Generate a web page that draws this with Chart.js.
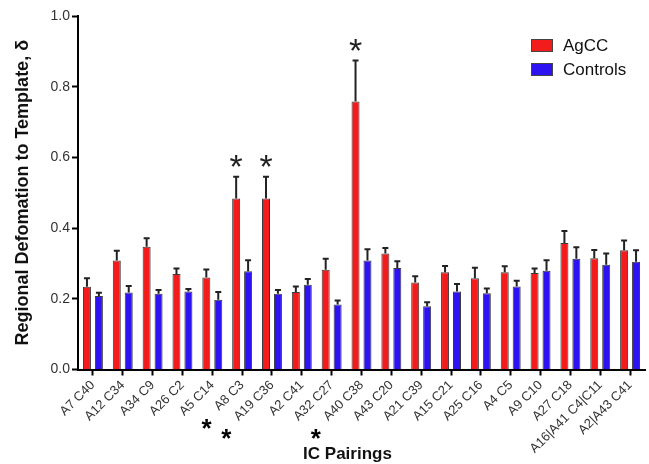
<!DOCTYPE html>
<html>
<head>
<meta charset="utf-8">
<script src="https://cdn.jsdelivr.net/npm/chart.js@4/dist/chart.umd.min.js"></script>
<style>
html,body{margin:0;padding:0;background:#fff;}
#wrap{width:649px;height:464px;}
</style>
</head>
<body>
<div id="wrap"><canvas id="c" width="649" height="464"></canvas></div>
<script>
// ---- data ----
const categories = ['A7 C40','A12 C34','A34 C9','A26 C2','A5 C14','A8 C3','A19 C36','A2 C41','A32 C27','A40 C38','A43 C20','A21 C39','A15 C21','A25 C16','A4 C5','A9 C10','A27 C18','A16|A41 C4|C11','A2|A43 C41'];
const agccValues    = [0.234,0.308,0.347,0.270,0.260,0.484,0.484,0.219,0.282,0.758,0.328,0.246,0.275,0.258,0.275,0.273,0.358,0.315,0.337];
const agccErrors    = [0.024,0.028,0.024,0.016,0.023,0.061,0.061,0.016,0.031,0.116,0.016,0.018,0.018,0.030,0.017,0.013,0.034,0.023,0.028];
const controlValues = [0.208,0.218,0.214,0.221,0.197,0.278,0.214,0.240,0.184,0.308,0.287,0.179,0.221,0.216,0.235,0.279,0.313,0.296,0.305];
const controlErrors = [0.009,0.018,0.011,0.007,0.022,0.031,0.011,0.016,0.011,0.032,0.019,0.011,0.021,0.013,0.016,0.030,0.033,0.032,0.032];
const significantIdx = [5,6,9];
const yMin = 0, yMax = 1, yStep = 0.2;
const seriesNames = ['AgCC','Controls'];
const yTitle = 'Regional Defomation to Template, \u03b4';
const xTitle = 'IC Pairings';

// ---- styles ----
const FONT = '"Liberation Sans", Arial, Helvetica, sans-serif';
const RED = '#f21c1c';
const BLUE = '#2d12f2';
Chart.defaults.font.family = FONT;

function textCenterBaseline(ctx, txt, cy){
  const m = ctx.measureText(txt);
  return cy + (m.actualBoundingBoxAscent - m.actualBoundingBoxDescent)/2;
}

const errorBarPlugin = {
  id:'errorBars',
  afterDatasetsDraw(chart){
    const ctx = chart.ctx, y = chart.scales.y;
    chart.data.datasets.forEach((ds,di)=>{
      const meta = chart.getDatasetMeta(di);
      meta.data.forEach((bar,i)=>{
        const top = y.getPixelForValue(ds.data[i] + ds.errors[i]);
        ctx.save();
        ctx.strokeStyle = '#222';
        ctx.lineWidth = 2;
        ctx.beginPath();
        ctx.moveTo(bar.x, bar.y);
        ctx.lineTo(bar.x, top);
        ctx.moveTo(bar.x-3, top);
        ctx.lineTo(bar.x+3, top);
        ctx.stroke();
        ctx.restore();
      });
    });
  }
};

const annotPlugin = {
  id:'annot',
  afterDraw(chart){
    const ctx = chart.ctx, x = chart.scales.x, y = chart.scales.y, ca = chart.chartArea;
    ctx.save();
    // asterisks above AgCC bars
    const meta0 = chart.getDatasetMeta(0);
    ctx.fillStyle = '#222';
    ctx.textAlign = 'center';
    ctx.textBaseline = 'alphabetic';
    ctx.font = '34px ' + FONT;
    significantIdx.forEach(i=>{
      const bar = meta0.data[i];
      const top = y.getPixelForValue(agccValues[i] + agccErrors[i]);
      ctx.fillText('*', bar.x, textCenterBaseline(ctx,'*', top - 16));
    });
    // bold asterisks by the category labels
    significantIdx.forEach(i=>{
      ctx.font = '13px ' + FONT;
      const w = ctx.measureText(categories[i]).width;
      const tx = x.getPixelForValue(i);
      const cx = tx - 3 - w*0.707 - 7;
      const cy = ca.bottom + 8.5 + w*0.707 + 20;
      ctx.font = 'bold 26px ' + FONT;
      ctx.fillStyle = '#000';
      ctx.fillText('*', cx, textCenterBaseline(ctx,'*', cy));
    });
    // x axis title
    ctx.font = 'bold 17px ' + FONT;
    ctx.fillStyle = '#111';
    ctx.textAlign = 'center';
    ctx.fillText(xTitle, (ca.left + ca.right)/2 - 14, chart.height - 5.5);
    // legend
    const colors = [RED, BLUE];
    ctx.font = '17px ' + FONT;
    ctx.textAlign = 'left';
    ctx.textBaseline = 'middle';
    seriesNames.forEach((name,k)=>{
      const bx = ca.right - 114, by = ca.top + 23 + k*24;
      ctx.fillStyle = colors[k];
      ctx.fillRect(bx, by, 22, 13);
      ctx.strokeStyle = '#444';
      ctx.lineWidth = 1;
      ctx.strokeRect(bx+0.5, by+0.5, 21, 12);
      ctx.fillStyle = '#111';
      ctx.fillText(name, bx + 32, by + 7);
    });
    ctx.restore();
  }
};

new Chart(document.getElementById('c'), {
  type:'bar',
  data:{
    labels: categories,
    datasets:[
      {label:seriesNames[0], data:agccValues, errors:agccErrors, backgroundColor:RED, borderColor:'#3a3a3a', borderWidth:1, categoryPercentage:0.8, barPercentage:0.67},
      {label:seriesNames[1], data:controlValues, errors:controlErrors, backgroundColor:BLUE, borderColor:'#3a3a3a', borderWidth:1, categoryPercentage:0.8, barPercentage:0.67}
    ]
  },
  options:{
    responsive:false,
    animation:false,
    devicePixelRatio:1,
    layout:{padding:{top:16,right:4,left:0,bottom:0}},
    plugins:{legend:{display:false}, tooltip:{enabled:false}},
    scales:{
      x:{
        grid:{display:true, drawOnChartArea:false, drawTicks:true, tickLength:6, tickWidth:2, tickColor:'#000', offset:false},
        border:{display:true, color:'#000', width:2},
        ticks:{minRotation:45, maxRotation:45, autoSkip:false, font:{size:13}, color:'#333', padding:2},
        afterFit(s){ s.height = 94.5; }
      },
      y:{
        min:yMin, max:yMax,
        ticks:{stepSize:yStep, callback:v=>Number(v).toFixed(1), font:{size:14}, color:'#333', padding:2},
        grid:{display:true, drawOnChartArea:false, drawTicks:true, tickLength:6, tickWidth:2, tickColor:'#000'},
        border:{display:true, color:'#000', width:2},
        title:{display:true, text:yTitle, font:{size:18, weight:'bold'}, color:'#111', padding:{top:12,bottom:0}},
        afterFit(s){ s.width = 78; }
      }
    }
  },
  plugins:[errorBarPlugin, annotPlugin]
});
</script>
</body>
</html>
